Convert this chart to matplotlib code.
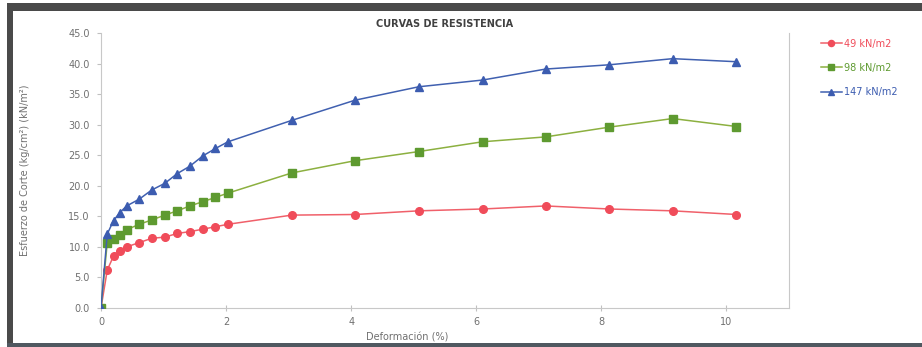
import matplotlib
matplotlib.use("Agg")
import matplotlib.pyplot as plt
from matplotlib.patches import Rectangle

deformacion = [0, 0.10, 0.20, 0.30, 0.41, 0.61, 0.81, 1.02, 1.22, 1.42, 1.63, 1.83, 2.03,
               3.05, 4.06, 5.08, 6.10, 7.11, 8.13, 9.14, 10.16]
s49 = [0, 6.2, 8.5, 9.3, 10.0, 10.7, 11.4, 11.6, 12.2, 12.5, 12.9, 13.3, 13.7,
       15.2, 15.3, 15.9, 16.2, 16.7, 16.2, 15.9, 15.3]
s98 = [0, 10.7, 11.3, 12.0, 12.8, 13.7, 14.4, 15.2, 15.9, 16.7, 17.4, 18.1, 18.8,
       22.1, 24.1, 25.6, 27.2, 28.0, 29.6, 31.0, 29.7]
s147 = [0, 12.1, 14.3, 15.6, 16.7, 17.8, 19.3, 20.4, 22.0, 23.2, 24.9, 26.1, 27.2,
        30.7, 34.0, 36.2, 37.3, 39.1, 39.8, 40.8, 40.3]
labels = ["49 kN/m2", "98 kN/m2", "147 kN/m2"]
yticks = [0, 5, 10, 15, 20, 25, 30, 35, 40, 45]
xticks = [0, 2, 4, 6, 8, 10]

W, H = 922, 347
fig = plt.figure(figsize=(W / 100, H / 100), dpi=100)
fig.patch.set_facecolor("white")

# dark frame around the chart
fig.add_artist(Rectangle((7 / W, 0), 6 / W, 1 - 3 / H, transform=fig.transFigure,
                         facecolor="#4a4a4a", edgecolor="none"))
fig.add_artist(Rectangle((7 / W, 1 - 11 / H), 1 - 7 / W, 8 / H, transform=fig.transFigure,
                         facecolor="#4a4a4a", edgecolor="none"))
fig.add_artist(Rectangle((7 / W, 0), 1 - 7 / W, 4 / H, transform=fig.transFigure,
                         facecolor="#505860", edgecolor="none"))

ax = fig.add_axes([101 / W, 1 - 308 / H, (789 - 101) / W, (308 - 33) / H])

cols_line = ["#f0606a", "#8cb040", "#4060b0"]
cols_mark = ["#f04c5a", "#5e9a30", "#3c5cb0"]
markers = ["o", "s", "^"]
sizes = [5.5, 5.2, 5.5]
for ys, lab, cl, cm, mk, ms in zip([s49, s98, s147], labels, cols_line, cols_mark, markers, sizes):
    ax.plot(deformacion, ys, color=cl, lw=1.1, marker=mk, ms=ms,
            markerfacecolor=cm, markeredgecolor=cm, label=lab, zorder=3)

ax.set_xlim(0, 11)
ax.set_ylim(0, 45)
ax.set_yticks(yticks)
ax.set_yticklabels([f"{v:.1f}" for v in yticks])
ax.set_xticks(xticks)
ax.set_xticklabels([str(v) for v in xticks])
for sp in ["left", "bottom", "right"]:
    ax.spines[sp].set_color("#c8c8c8")
    ax.spines[sp].set_linewidth(0.8)
ax.spines["top"].set_visible(False)
ax.tick_params(axis="both", colors="#c0c0c0", labelcolor="#707070", labelsize=7, length=3, width=0.8)
ax.tick_params(axis="x", direction="inout", length=5, pad=4)
ax.tick_params(axis="y", direction="out", length=3, pad=5)

ax.set_title("CURVAS DE RESISTENCIA", fontsize=7, fontweight="bold", color="#404040", pad=4)
ax.set_xlabel("Deformación (%)", fontsize=7, color="#707070")
ax.xaxis.set_label_coords((407 - 101) / (789 - 101), -0.09)
ax.set_ylabel("Esfuerzo de Corte (kg/cm²) (kN/m²)", fontsize=7, color="#707070")
ax.yaxis.set_label_coords(-(101 - 30) / (789 - 101), 0.5)

leg = fig.legend(loc="upper left", bbox_to_anchor=(812 / W, 1 - 30 / H), frameon=False,
                 fontsize=7, handlelength=2.2, handletextpad=0.2, labelspacing=1.45,
                 markerscale=0.8)
for txt, c in zip(leg.get_texts(), cols_mark):
    txt.set_color(c)

fig.savefig("out.png", dpi=100, facecolor="white")
